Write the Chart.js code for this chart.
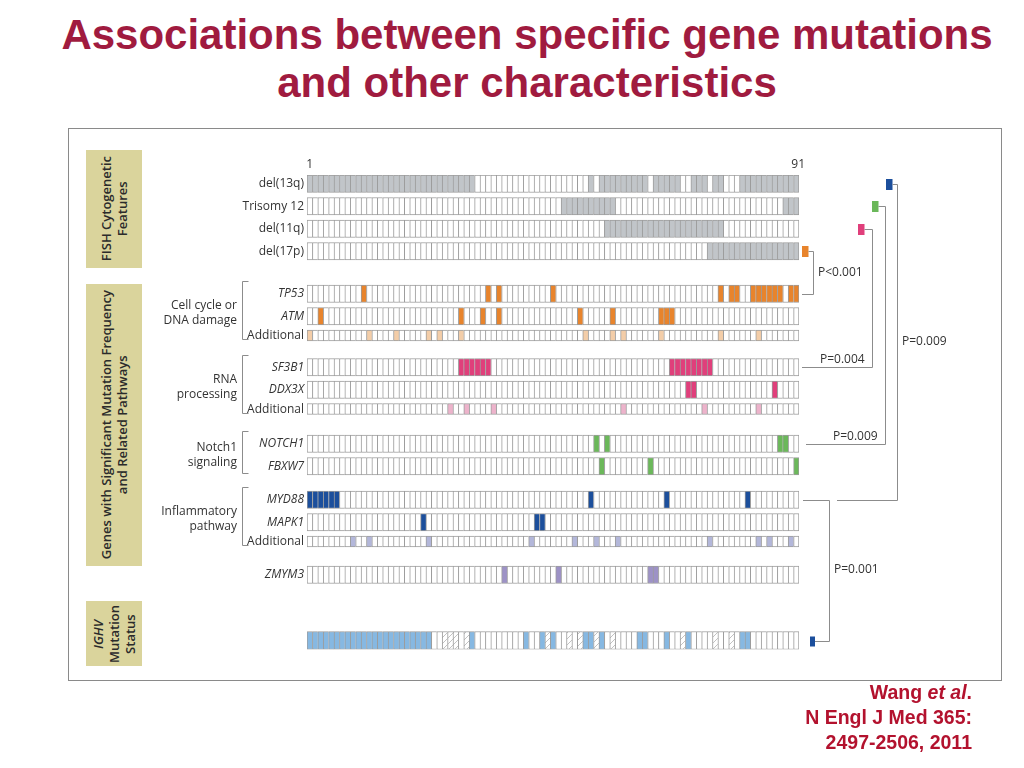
<!DOCTYPE html>
<html>
<head>
<meta charset="utf-8">
<title>Associations between specific gene mutations and other characteristics</title>
<script src="https://cdn.jsdelivr.net/npm/chart.js@4.4.0/dist/chart.umd.min.js"></script>
<style>
  body { margin: 0; background: #fff; }
  #page { position: relative; width: 1024px; height: 768px; overflow: hidden;
          font-family: "Open Sans", "Noto Sans", sans-serif; color: #333; }
  #title { position: absolute; left: 30px; width: 994px; top: 11px; text-align: center;
           font-family: "Liberation Sans", Arial, sans-serif; font-weight: bold;
           font-size: 42px; line-height: 48px; color: #A01B3F; }
  #frame { position: absolute; left: 68px; top: 128px; width: 932px; height: 551px;
           border: 1px solid #8a8a8a; }
  .box { position: absolute; left: 86px; width: 56px; background: #DAD49C;
         display: flex; align-items: center; justify-content: center; }
  .box div { writing-mode: vertical-rl; transform: rotate(180deg); text-align: center;
             font-size: 13px; line-height: 16px; font-weight: 600; color: #2b2b2b; }
  #chart { position: absolute; left: 0; top: 0; }
  .lbl { position: absolute; font-size: 12px; line-height: 14px; white-space: nowrap; color: #333; }
  #cite { position: absolute; right: 52px; top: 680px; text-align: right;
          font-family: "Liberation Sans", Arial, sans-serif; font-weight: bold;
          font-size: 19.5px; line-height: 25px; color: #B3122E; }
</style>
</head>
<body>
<div id="page">
  <div id="title">Associations between specific gene mutations<br>and other characteristics</div>
  <div id="frame"></div>
  <div class="box" style="top:150px;height:118px"><div>FISH Cytogenetic<br>Features</div></div>
  <div class="box" style="top:284px;height:282px"><div>Genes with Significant Mutation Frequency<br>and Related Pathways</div></div>
  <div class="box" style="top:601px;height:65px"><div><i>IGHV</i><br>Mutation<br>Status</div></div>
  <canvas id="chart" width="1024" height="768"></canvas>
  <div id="cite">Wang <i>et al</i>.<br>N Engl J Med 365:<br>2497-2506, 2011</div>
</div>
<script>
// patients 1..91 (columns)
var patients = Array.from({length: 91}, function(_, i) { return String(i + 1); });

// patients positive for each feature / mutation
var del13q = [1,2,3,4,5,6,7,8,9,10,11,12,13,14,15,16,17,18,19,20,21,22,23,24,25,26,27,28,29,30,31,
              53,55,56,57,58,59,60,61,62,63,65,66,67,68,69,72,73,74,76,77,81,82,83,84,85,86,87,88,89,90,91];
var trisomy12 = [48,49,50,51,52,53,54,55,56,57,89,90,91];
var del11q = [56,57,58,59,60,61,62,63,64,65,66,67,68,69,70,71,72,73,74,75,76,77];
var del17p = [75,76,77,78,79,80,81,82,83,84,85,86,87,88,89,90,91];
var tp53 = [11,34,36,46,77,79,80,83,84,85,86,87,88,90,91];
var atm = [3,29,33,36,51,57,66,67,68];
var addCellCycle = [1,12,17,23,25,29,52,57,59,66,77,84];
var sf3b1 = [29,30,31,32,33,34,68,69,70,71,72,73,74,75];
var ddx3x = [71,72,87];
var addRna = [27,30,35,59,74,84];
var notch1 = [54,56,88,89];
var fbxw7 = [55,64,91];
var myd88 = [1,2,3,4,5,6,53,67,82];
var mapk1 = [22,43,44];
var addInflam = [9,12,23,42,50,54,58,75,84,86,90];
var zmym3 = [37,47,64,65];
var ighvMutated = [1,2,3,4,5,6,7,8,9,10,11,12,13,14,15,16,17,18,19,20,21,22,23,
                   31,41,44,46,52,53,55,62,63,67,71,81,82];
var ighvUnknown = [26,27,28,30,45,49,51,54,57,70,76,79];

var pValues = ['P<0.001', 'P=0.004', 'P=0.009', 'P=0.009', 'P=0.001'];

// colours
var GRAY = '#C1C5C9', ORANGE = '#E8842C', ORANGE_LT = '#F3CDA8', PINK = '#E03F7B', PINK_LT = '#EDB3CB',
    GREEN = '#6BB85A', BLUE = '#1C4F9C', BLUE_LT = '#B3B7DA', PURPLE = '#9D92C6', SKY = '#86B8E2';

// hatch for unknown IGHV status
function hatch() {
  var c = document.createElement('canvas');
  c.width = 6; c.height = 6;
  var g = c.getContext('2d');
  g.fillStyle = '#fff'; g.fillRect(0, 0, 6, 6);
  g.strokeStyle = '#c2c2c2'; g.lineWidth = 1;
  g.beginPath(); g.moveTo(0, 6); g.lineTo(6, 0); g.moveTo(-1, 1); g.lineTo(1, -1); g.moveTo(5, 7); g.lineTo(7, 5); g.stroke();
  return g.createPattern(c, 'repeat');
}
var HATCH = hatch();

// rows: label, hits, colour, size, gap above
var rows = [
  {label: 'del(13q)', hits: del13q, color: GRAY, h: 17.5, gap: 0},
  {label: 'Trisomy 12', hits: trisomy12, color: GRAY, h: 17.5, gap: 5},
  {label: 'del(11q)', hits: del11q, color: GRAY, h: 17.5, gap: 5},
  {label: 'del(17p)', hits: del17p, color: GRAY, h: 17.5, gap: 5},
  {label: 'TP53', hits: tp53, color: ORANGE, h: 17.5, gap: 25, it: true},
  {label: 'ATM', hits: atm, color: ORANGE, h: 17.5, gap: 5, it: true},
  {label: 'Additional', hits: addCellCycle, color: ORANGE_LT, h: 11, gap: 5},
  {label: 'SF3B1', hits: sf3b1, color: PINK, h: 17.5, gap: 17.5, it: true},
  {label: 'DDX3X', hits: ddx3x, color: PINK, h: 17.5, gap: 5, it: true},
  {label: 'Additional', hits: addRna, color: PINK_LT, h: 11, gap: 5},
  {label: 'NOTCH1', hits: notch1, color: GREEN, h: 17.5, gap: 20.5, it: true},
  {label: 'FBXW7', hits: fbxw7, color: GREEN, h: 17.5, gap: 5, it: true},
  {label: 'MYD88', hits: myd88, color: BLUE, h: 17.5, gap: 16, it: true},
  {label: 'MAPK1', hits: mapk1, color: BLUE, h: 17.5, gap: 5, it: true},
  {label: 'Additional', hits: addInflam, color: BLUE_LT, h: 11, gap: 5},
  {label: 'ZMYM3', hits: zmym3, color: PURPLE, h: 17.5, gap: 19, it: true},
  {label: '', hits: ighvMutated, color: SKY, h: 18, gap: 48, extra: ighvUnknown}
];

var y0 = 0;
rows.forEach(function(r) { r.top = y0 + r.gap; y0 = r.top + r.h; });
var total = y0;

var datasets = rows.map(function(r) {
  return {
    label: r.label,
    data: patients.map(function() { return [r.top, r.top + r.h]; }),
    backgroundColor: patients.map(function(p, i) {
      var n = i + 1;
      if (r.hits.indexOf(n) >= 0) return r.color;
      if (r.extra && r.extra.indexOf(n) >= 0) return HATCH;
      return '#fff';
    })
  };
});

var groups = [
  {first: 4, last: 6, text: 'Cell cycle or<br>DNA damage'},
  {first: 7, last: 9, text: 'RNA<br>processing'},
  {first: 10, last: 11, text: 'Notch1<br>signaling'},
  {first: 12, last: 14, text: 'Inflammatory<br>pathway'}
];

// association links: marker row -> target row
var links = [
  {from: 3, to: 4, color: ORANGE, mark: 3, mw: 6.5, mh: 11, turn: 14, end: 3, p: 0, tx: 19, mid: true},
  {from: 2, to: 7, color: PINK, mark: 59, mw: 6.5, mh: 11, turn: 72.5, end: 3, p: 1, tx: 21},
  {from: 1, to: 10, color: GREEN, mark: 73, mw: 6.5, mh: 11, turn: 85.5, end: 7, p: 2, tx: 34},
  {from: 0, to: 12, color: BLUE, mark: 87, mw: 6.5, mh: 11, turn: 98, end: 38, p: 3, tx: 103, mid: true},
  {from: 16, to: 12, color: BLUE, mark: 11, mw: 5, mh: 10, turn: 30, end: 4, p: 4, tx: 35, mid: true}
];

function midOf(chart, i) {
  return chart.scales.y.getPixelForValue(rows[i].top + rows[i].h / 2);
}

var decor = {
  id: 'decor',
  afterDatasetsDraw: function(chart) {
    var ctx = chart.ctx, a = chart.chartArea, ys = chart.scales.y;
    ctx.save();
    ctx.strokeStyle = '#8c8c8c';
    ctx.lineWidth = 1;
    // left brackets
    groups.forEach(function(g) {
      var t = Math.round(ys.getPixelForValue(rows[g.first].top)) - 3.5;
      var b = Math.round(ys.getPixelForValue(rows[g.last].top + rows[g.last].h)) - 1.5;
      var x = Math.round(a.left - 65) + 0.5;
      ctx.beginPath();
      ctx.moveTo(x + 6, t); ctx.lineTo(x, t); ctx.lineTo(x, b); ctx.lineTo(x + 6, b);
      ctx.stroke();
    });
    // right links
    links.forEach(function(l) {
      var yf = Math.round(midOf(chart, l.from)) + 0.5;
      var yt = Math.round(midOf(chart, l.to)) + 0.5;
      var xm = a.right + l.mark;
      ctx.fillStyle = l.color;
      ctx.fillRect(xm, yf - l.mh / 2, l.mw, l.mh);
      var xt = Math.round(a.right + l.turn) + 0.5;
      ctx.beginPath();
      ctx.moveTo(xm + l.mw, yf); ctx.lineTo(xt, yf); ctx.lineTo(xt, yt); ctx.lineTo(a.right + l.end, yt);
      ctx.stroke();
    });
    ctx.restore();
  }
};

var chart = new Chart(document.getElementById('chart'), {
  type: 'bar',
  data: {labels: patients, datasets: datasets},
  options: {
    responsive: false,
    animation: false,
    devicePixelRatio: 1,
    layout: {padding: {left: 307, right: 225, top: 175, bottom: 768 - 175 - total}},
    plugins: {legend: {display: false}, tooltip: {enabled: false}},
    datasets: {
      bar: {
        grouped: false,
        barPercentage: 1,
        categoryPercentage: 1,
        borderSkipped: false,
        borderColor: '#9c9c9c',
        borderWidth: function(c) {
          return {left: 1, top: 1, bottom: 1, right: c.dataIndex === patients.length - 1 ? 1 : 0};
        }
      }
    },
    scales: {
      x: {display: false},
      y: {display: false, min: 0, max: total, reverse: true}
    }
  },
  plugins: [decor]
});

// text labels placed from the chart scales
var page = document.getElementById('page');
function addLabel(html, css) {
  var d = document.createElement('div');
  d.className = 'lbl';
  d.innerHTML = html;
  for (var k in css) d.style[k] = css[k];
  page.appendChild(d);
  return d;
}
var area = chart.chartArea, xs = chart.scales.x;

rows.forEach(function(r, i) {
  if (!r.label) return;
  addLabel(r.it ? '<i>' + r.label + '</i>' : r.label,
           {right: (1024 - area.left + 3) + 'px', top: (midOf(chart, i) - 7.5) + 'px'});
});

groups.forEach(function(g) {
  var t = chart.scales.y.getPixelForValue(rows[g.first].top);
  var b = chart.scales.y.getPixelForValue(rows[g.last].top + rows[g.last].h);
  addLabel(g.text, {right: (1024 - area.left + 70) + 'px', top: ((t + b) / 2 - 16) + 'px',
                    textAlign: 'right', lineHeight: '15px'});
});

[0, patients.length - 1].forEach(function(i) {
  var d = addLabel(patients[i], {top: '157px'});
  d.style.left = (xs.getPixelForValue(i) - d.offsetWidth / 2 + (i ? 2 : 0)) + 'px';
});

links.forEach(function(l) {
  var yf = midOf(chart, l.from), yt = midOf(chart, l.to);
  var y = l.mid ? (yf + yt) / 2 : yt - 7;
  addLabel(pValues[l.p], {left: (area.right + l.tx) + 'px', top: (y - 8) + 'px'});
});
</script>
</body>
</html>
